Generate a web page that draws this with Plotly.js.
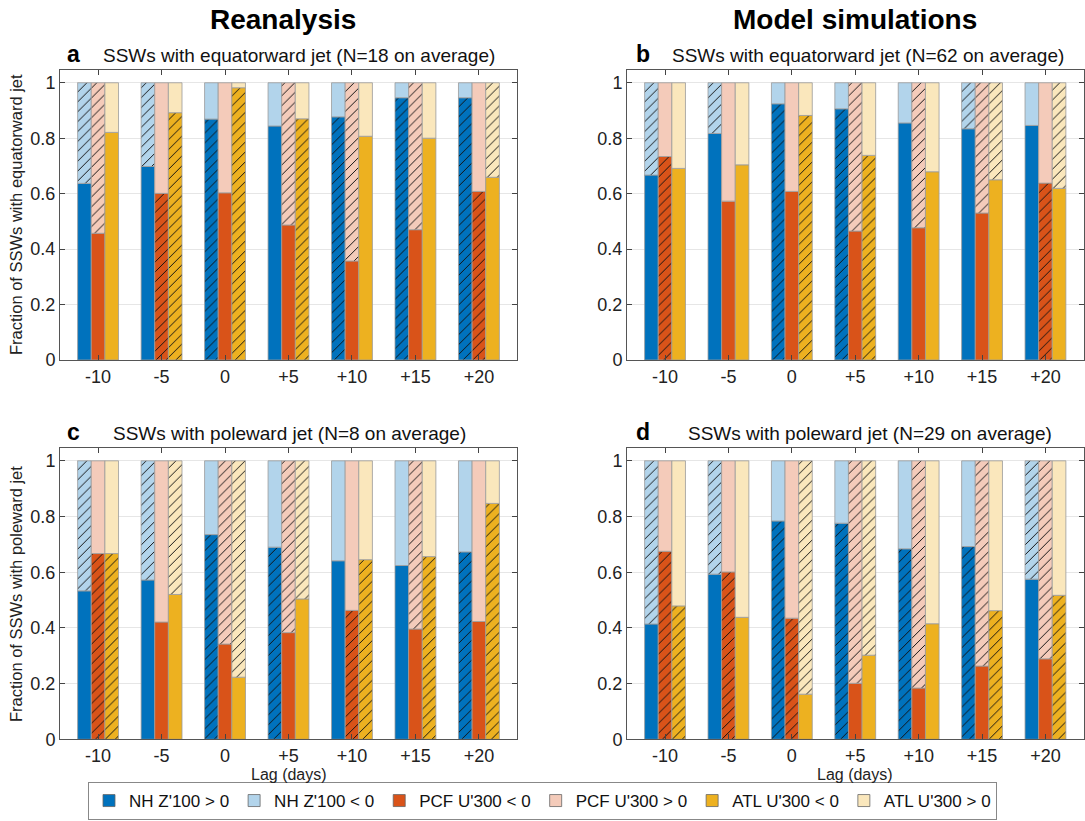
<!DOCTYPE html>
<html>
<head>
<meta charset="utf-8">
<script src="https://cdn.plot.ly/plotly-3.0.1.min.js"></script>
<style>html,body{margin:0;padding:0;background:#fff;}#chart{width:1085px;height:821px;}</style>
</head>
<body>
<div id="chart"></div>
<script>
// ---------- data ----------
const lags = ['-10', '-5', '0', '+5', '+10', '+15', '+20'];

// Panel a: Reanalysis, equatorward jet (N=18)
const nhA  = [0.637, 0.698, 0.869, 0.844, 0.877, 0.946, 0.946];
const pcfA = [0.457, 0.601, 0.603, 0.487, 0.357, 0.470, 0.608];
const atlA = [0.821, 0.892, 0.982, 0.870, 0.807, 0.800, 0.659];
// Panel b: Model, equatorward jet (N=62)
const nhB  = [0.667, 0.817, 0.924, 0.906, 0.855, 0.834, 0.846];
const pcfB = [0.734, 0.573, 0.608, 0.465, 0.477, 0.530, 0.638];
const atlB = [0.691, 0.704, 0.882, 0.738, 0.679, 0.650, 0.619];
// Panel c: Reanalysis, poleward jet (N=8)
const nhC  = [0.533, 0.572, 0.735, 0.690, 0.641, 0.624, 0.673];
const pcfC = [0.667, 0.421, 0.342, 0.383, 0.463, 0.396, 0.423];
const atlC = [0.667, 0.520, 0.223, 0.504, 0.645, 0.656, 0.847];
// Panel d: Model, poleward jet (N=29)
const nhD  = [0.414, 0.593, 0.784, 0.776, 0.684, 0.692, 0.575];
const pcfD = [0.675, 0.601, 0.435, 0.201, 0.184, 0.263, 0.289];
const atlD = [0.479, 0.438, 0.162, 0.302, 0.415, 0.462, 0.517];

// hatching: 0 = none, 1 = lower (dark) part hatched, 2 = upper (light) part hatched
const nhHatchA  = [2, 2, 1, 0, 1, 1, 1];
const pcfHatchA = [2, 1, 0, 2, 2, 2, 1];
const atlHatchA = [0, 1, 1, 1, 0, 0, 2];
const nhHatchB  = [2, 2, 1, 1, 0, 2, 0];
const pcfHatchB = [1, 0, 0, 2, 2, 2, 1];
const atlHatchB = [0, 0, 1, 1, 0, 2, 2];
const nhHatchC  = [2, 2, 1, 1, 0, 0, 1];
const pcfHatchC = [1, 0, 2, 2, 1, 2, 0];
const atlHatchC = [1, 2, 2, 2, 1, 1, 1];
const nhHatchD  = [2, 2, 1, 1, 1, 1, 2];
const pcfHatchD = [1, 1, 1, 2, 2, 2, 2];
const atlHatchD = [1, 0, 2, 2, 0, 1, 1];

const legendNames = ["NH Z'100 > 0", "NH Z'100 < 0", "PCF U'300 < 0", "PCF U'300 > 0", "ATL U'300 < 0", "ATL U'300 > 0"];
const panelTitles = ['SSWs with equatorward jet (N=18 on average)', 'SSWs with equatorward jet (N=62 on average)',
                     'SSWs with poleward jet (N=8 on average)', 'SSWs with poleward jet (N=29 on average)'];
const panelLetters = ['a', 'b', 'c', 'd'];
const columnTitles = ['Reanalysis', 'Model simulations'];
const yTitles = ['Fraction of SSWs with equatorward jet', 'Fraction of SSWs with poleward jet'];
const xTitle = 'Lag (days)';

// ---------- styling ----------
const darkCols  = ['#0072BD', '#D95319', '#EDB120'];
const lightCols = ['#B2D4EB', '#F4CBBA', '#FAE7BC'];
const W = 1085, H = 821;
const FONT = 'Liberation Sans, Arial, Helvetica, sans-serif';
const px = x => x / W;
const py = y => 1 - y / H;

const panels = [
  {ax: '', vals: [nhA, pcfA, atlA], hatch: [nhHatchA, pcfHatchA, atlHatchA]},
  {ax: '2', vals: [nhB, pcfB, atlB], hatch: [nhHatchB, pcfHatchB, atlHatchB]},
  {ax: '3', vals: [nhC, pcfC, atlC], hatch: [nhHatchC, pcfHatchC, atlHatchC]},
  {ax: '4', vals: [nhD, pcfD, atlD], hatch: [nhHatchD, pcfHatchD, atlHatchD]}
];
const xIdx = lags.map((_, i) => i);
const bw = 0.2147;
const offsets = [-1.5 * bw, -0.5 * bw, 0.5 * bw];
const edge = {color: '#9a9a9a', width: 0.8};

function pat(h, code) {
  return {shape: h.map(c => c === code ? '/' : ''), fillmode: 'overlay', fgcolor: '#111111',
          fgopacity: 1, size: 7, solidity: 0.14};
}

const traces = [];
panels.forEach(p => {
  p.vals.forEach((v, k) => {
    const h = p.hatch[k];
    traces.push({
      type: 'bar', x: xIdx, y: v, base: v.map(() => 0),
      offset: offsets[k], width: bw,
      xaxis: 'x' + p.ax, yaxis: 'y' + p.ax, showlegend: false, hoverinfo: 'skip',
      marker: {color: darkCols[k], line: edge, pattern: pat(h, 1)}
    });
    traces.push({
      type: 'bar', x: xIdx, y: v.map(a => 1 - a), base: v,
      offset: offsets[k], width: bw,
      xaxis: 'x' + p.ax, yaxis: 'y' + p.ax, showlegend: false, hoverinfo: 'skip',
      marker: {color: lightCols[k], line: edge, pattern: pat(h, 2)}
    });
  });
});
// legend entries
legendNames.forEach((n, i) => {
  const k = Math.floor(i / 2);
  traces.push({type: 'bar', x: [null], y: [null], name: n, xaxis: 'x', yaxis: 'y', hoverinfo: 'skip',
    marker: {color: i % 2 === 0 ? darkCols[k] : lightCols[k], line: {color: '#666', width: 0.8}}});
});

const xDomL = [px(60), px(517)], xDomR = [px(627), px(1083.5)];
const yDomT = [py(360), py(70)], yDomB = [py(739.3), py(448)];

function xa(dom, anchor) {
  return {domain: dom, anchor: anchor, range: [-0.6, 6.6], tickmode: 'array', tickvals: xIdx, ticktext: lags,
    ticks: 'inside', ticklen: 5, tickcolor: '#444', showline: true, linecolor: '#555', linewidth: 1, mirror: 'ticks',
    showgrid: false, zeroline: false, tickfont: {family: FONT, size: 18, color: '#222'}, fixedrange: true};
}
function ya(dom, anchor) {
  return {domain: dom, anchor: anchor, range: [0, 1.046], tickmode: 'array', tickvals: [0, 0.2, 0.4, 0.6, 0.8, 1],
    ticktext: ['0', '0.2', '0.4', '0.6', '0.8', '1'],
    ticks: 'inside', ticklen: 5, tickcolor: '#444', showline: true, linecolor: '#555', linewidth: 1, mirror: 'ticks',
    showgrid: true, gridcolor: '#e6e6e6', gridwidth: 1, zeroline: false,
    tickfont: {family: FONT, size: 18, color: '#222'}, fixedrange: true};
}

const ann = [];
function addText(text, x, y, size, color, angle) {
  ann.push({text: text, x: px(x), y: py(y), xref: 'paper', yref: 'paper', showarrow: false,
    xanchor: 'center', yanchor: 'middle', textangle: angle || 0,
    font: {family: FONT, size: size, color: color}});
}
// column titles
addText('<b>' + columnTitles[0] + '</b>', 283, 19, 28, '#000');
addText('<b>' + columnTitles[1] + '</b>', 855, 19, 28, '#000');
// panel titles
const titlePos = [[299, 55, 73], [868, 55, 643], [289, 433, 73], [870, 433, 643]];
titlePos.forEach((t, i) => {
  addText(panelTitles[i], t[0], t[1], 19, '#111');
  addText('<b>' + panelLetters[i] + '</b>', t[2], t[1] - 1, 23, '#000');
});
// y titles
addText(yTitles[0], 16, 215, 16.5, '#222', -90);
addText(yTitles[1], 16, 594, 16.5, '#222', -90);
// x titles
addText(xTitle, 289, 774, 16, '#222');
addText(xTitle, 855, 774, 16, '#222');

const layout = {
  width: W, height: H, margin: {l: 0, r: 0, t: 0, b: 0},
  paper_bgcolor: '#fff', plot_bgcolor: '#fff',
  barmode: 'overlay',
  xaxis: xa(xDomL, 'y'), yaxis: ya(yDomT, 'x'),
  xaxis2: xa(xDomR, 'y2'), yaxis2: ya(yDomT, 'x2'),
  xaxis3: xa(xDomL, 'y3'), yaxis3: ya(yDomB, 'x3'),
  xaxis4: xa(xDomR, 'y4'), yaxis4: ya(yDomB, 'x4'),
  showlegend: true,
  legend: {orientation: 'h', x: 0.5, xanchor: 'center', y: py(820), yanchor: 'bottom',
    bordercolor: '#888', borderwidth: 1, bgcolor: '#fff',
    font: {family: 'Liberation Sans Narrow, Liberation Sans, Arial, sans-serif', size: 17, color: '#111'},
    itemwidth: 30, tracegroupgap: 0, traceorder: 'normal'},
  annotations: ann
};

Plotly.newPlot('chart', traces, layout, {displayModeBar: false, staticPlot: true});
</script>
</body>
</html>
